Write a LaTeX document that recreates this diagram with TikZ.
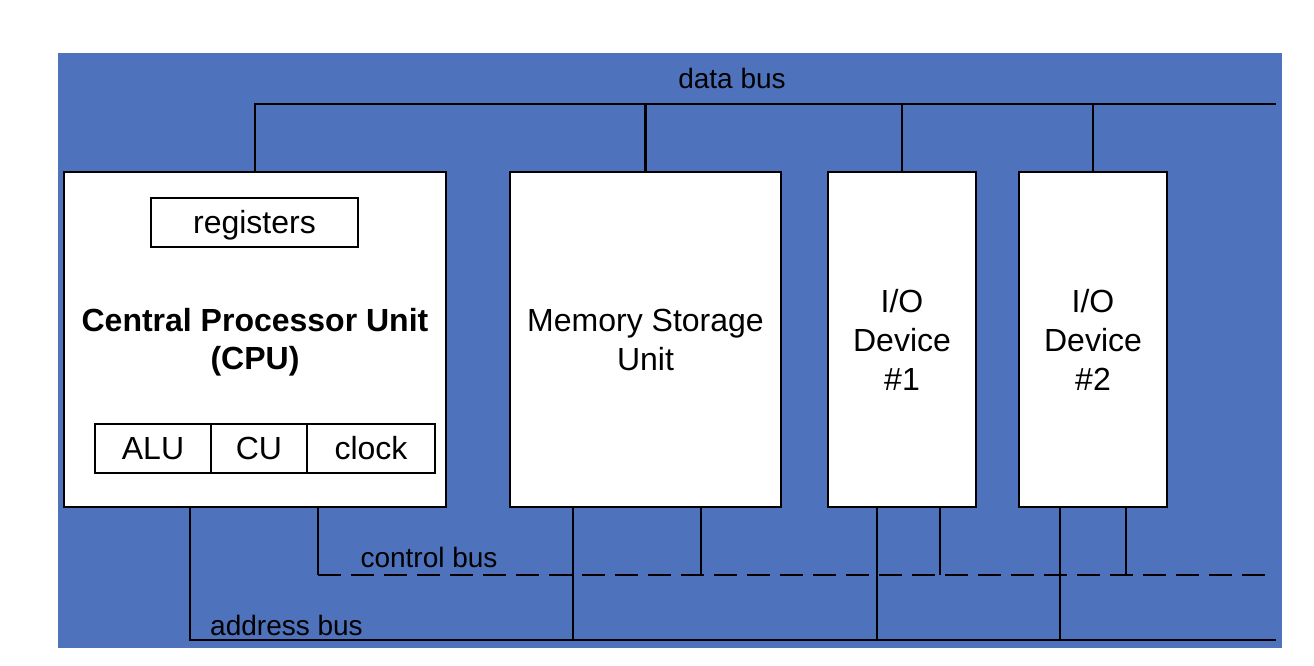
\documentclass[tikz,border=0pt]{standalone}
\usepackage{fontspec}
\setmainfont{Liberation Sans}
\definecolor{bgblue}{RGB}{79,114,189}
\begin{document}
\begin{tikzpicture}[x=1pt,y=-1pt,
  unitbox/.style={draw=black,fill=white,line width=2.8pt,inner sep=0pt},
  subbox/.style={draw=black,fill=white,line width=2.2pt,inner sep=0pt,minimum height=49pt,font=\fontsize{32}{38}\selectfont},
  boxtext/.style={align=center,font=\fontsize{32}{39}\selectfont},
  buslabel/.style={font=\fontsize{28}{32}\selectfont,inner sep=0pt},
  bus/.style={line width=2.8pt},
  cbus/.style={line width=2.8pt,dash pattern=on 23pt off 10pt}]
\useasboundingbox (0,0) rectangle (1314,666);
\fill[bgblue] (58,53) rectangle (1282,648);
% bus end coordinates
\coordinate (dbE) at (1276,104);
\coordinate (cbE) at (1268,575);
\coordinate (abE) at (1276,640);
\coordinate (cbS) at (318,575);
\coordinate (abS) at (190,640);
% boxes
\node[unitbox,minimum width=382pt,minimum height=335pt] (cpu) at (255,339.5) {};
\node[subbox,minimum width=207pt,text height=23pt,text depth=1pt] (reg) at (254.5,222.5) {registers};
\node[boxtext,font=\fontsize{32}{38}\selectfont\bfseries] (cputext) at (255,342) {Central Processor Unit\\(CPU)};
\node[subbox,minimum width=116pt] (alu) at (153,448.5) {ALU};
\node[subbox,minimum width=96pt] (cu) at (259,448.5) {CU};
\node[subbox,minimum width=128pt] (clk) at (371,448.5) {clock};
\node[unitbox,minimum width=271pt,minimum height=335pt,boxtext] (mem) at (645.5,339.5) {Memory Storage\\Unit};
\node[unitbox,minimum width=148pt,minimum height=335pt,boxtext] (io1) at (902,339.5) {I/O\\Device\\\#1};
\node[unitbox,minimum width=148pt,minimum height=335pt,boxtext] (io2) at (1093,339.5) {I/O\\Device\\\#2};
% data bus
\draw[bus] (cpu.north) |- (dbE);
\draw[bus] (mem.north) -- (mem.north |- dbE);
\draw[bus] (io1.north) -- (io1.north |- dbE);
\draw[bus] (io2.north) -- (io2.north |- dbE);
\node[buslabel] (dbl) at (732,78) {data bus};
% control bus
\draw[bus] (cpu.south -| cbS) -- (cbS);
\draw[cbus] (cbS) -- (cbE);
\draw[bus] (mem.south -| 701,0) -- (701,575);
\draw[bus] (io1.south -| 940,0) -- (940,575);
\draw[bus] (io2.south -| 1126,0) -- (1126,575);
\node[buslabel] (cbl) at (429,557) {control bus};
% address bus
\draw[bus] (cpu.south -| abS) |- (abE);
\draw[bus] (mem.south -| 573,0) -- (573,640);
\draw[bus] (io1.south -| 877,0) -- (877,640);
\draw[bus] (io2.south -| 1060,0) -- (1060,640);
\node[buslabel] (abl) at (286.5,625) {address bus};
\end{tikzpicture}
\end{document}
